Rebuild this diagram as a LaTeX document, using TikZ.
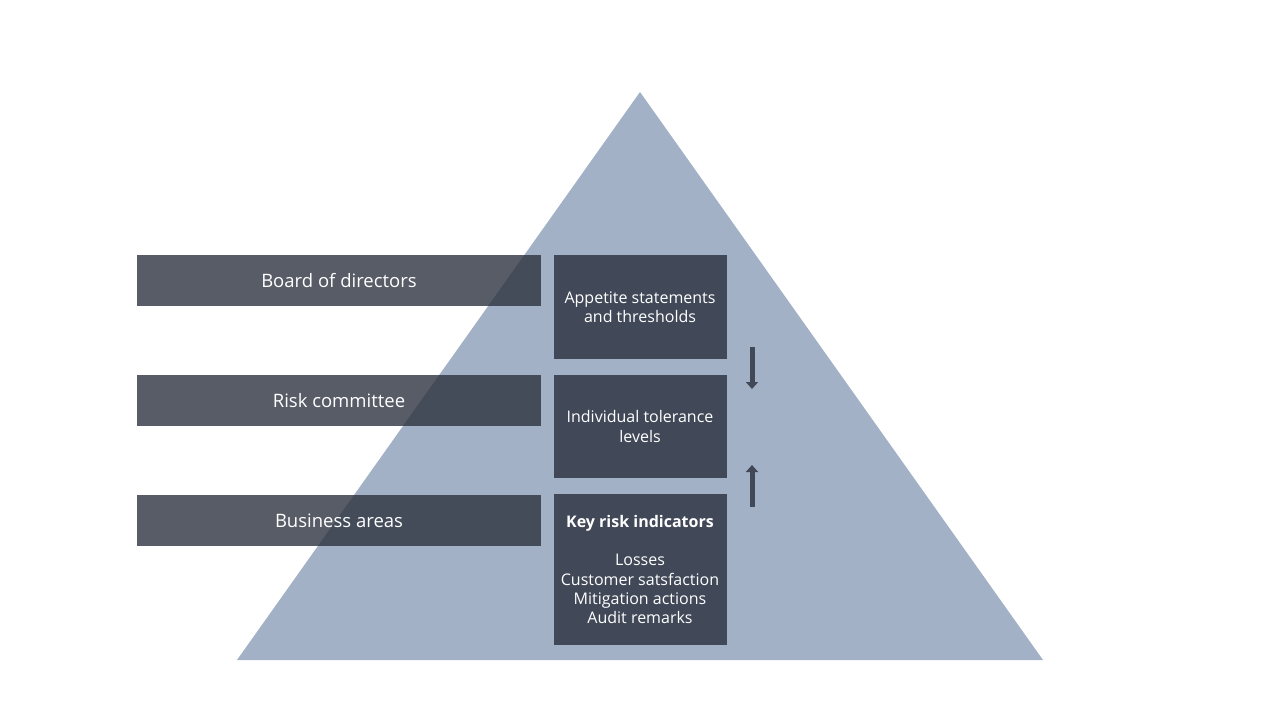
\documentclass[tikz,border=0pt]{standalone}
\usepackage{fontspec}
\setmainfont{Open Sans}
\usepackage{tikz}
\usetikzlibrary{arrows.meta,positioning,calc}
\definecolor{pyramid}{HTML}{A2B1C6}
\definecolor{slate}{HTML}{414858}
\definecolor{bar}{RGB}{45,51,64}
\tikzset{
level/.style = {fill=bar, fill opacity=0.8, text opacity=1, text=white, rectangle, minimum width=404pt, minimum height=51pt, inner sep=0pt, font=\fontsize{18.5}{22}\selectfont},
measure/.style = {fill=slate, text=white, rectangle, minimum width=173pt, align=center, inner sep=0pt, font=\fontsize{16}{19.3}\selectfont},
flow/.style = {draw=slate, line width=5pt},
}

\begin{document}
\begin{tikzpicture}[x=1pt, y=-1pt, >={Triangle[length=7pt,width=12pt]}]
      \useasboundingbox (0,0) rectangle (1280,720);
      \fill [pyramid] (640,92) -- (1043,660) -- (237,660) -- cycle;
      \node [measure, minimum height=104pt] (appetite) at (640,307)
         {Appetite statements\\and thresholds};
      \node [measure, minimum height=103pt] (tolerance) at (640,426.5)
         {Individual tolerance\\levels};
      \node [measure, minimum height=151pt] (indicators) at (640,569.5)
         {\textbf{Key risk indicators}\\[19.3pt]Losses\\Customer satsfaction\\Mitigation actions\\Audit remarks};
      \node [level] (board) at (339,280.5) {Board of directors};
      \node [level] (committee) at (339,400.5) {Risk committee};
      \node [level] (business) at (339,520.5) {Business areas};
      \coordinate (downstart) at (752,347);
      \coordinate (downend) at (752,389);
      \coordinate (upstart) at (752,507);
      \coordinate (upend) at (752,465);
      \draw [flow, ->] (downstart) -- (downend);
      \draw [flow, ->] (upstart) -- (upend);
\end{tikzpicture}
\end{document}
